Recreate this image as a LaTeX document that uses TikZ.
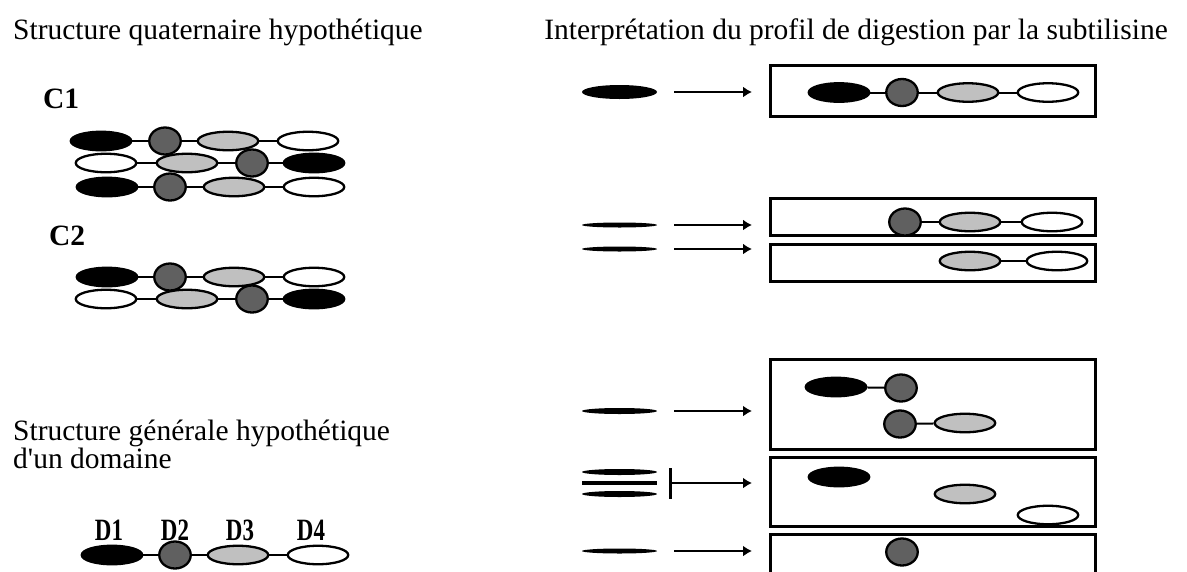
\documentclass[tikz,border=0pt]{standalone}
\usepackage{fontspec}
\setmainfont{Liberation Serif}
\usepackage{graphicx}
\usetikzlibrary{shapes.geometric, arrows.meta, positioning}
\definecolor{domdark}{HTML}{606060}
\definecolor{domlight}{HTML}{C0C0C0}
\newcommand{\dlab}[1]{\scalebox{0.74}[1]{#1}}
\tikzset{
  dom/.style     = {ellipse, draw=black, line width=2.3pt, inner sep=0pt,
                    minimum width=60.5pt, minimum height=18.5pt},
  dblack/.style  = {dom, fill=black},
  dgrey/.style   = {dom, fill=domdark, minimum width=31.5pt, minimum height=27pt},
  dlight/.style  = {dom, fill=domlight},
  dwhite/.style  = {dom, fill=white},
  link/.style    = {line width=2pt},
  band/.style    = {ellipse, fill=black, inner sep=0pt, minimum width=75pt, minimum height=5pt},
  midbar/.style  = {rectangle, fill=black, inner sep=0pt, minimum width=75pt, minimum height=4pt},
  frag/.style    = {rectangle, draw=black, line width=3pt, inner sep=0pt, minimum width=325pt},
  digest/.style  = {line width=2.5pt, -{Latex[length=9pt, width=11pt]},
                    shorten <=17pt, shorten >=17pt},
  txt/.style     = {font=\fontsize{29.5}{25}\selectfont, inner sep=0pt},
  lab/.style     = {font=\fontsize{29.5}{25}\selectfont\bfseries, inner sep=0pt},
}

\begin{document}
\begin{tikzpicture}[x=1pt, y=-1pt]
\useasboundingbox (0,0) rectangle (1187,571);

% =============== TITLES ===============
\node (qtitle) [txt, anchor=base west] at (13,39) {Structure quaternaire hypothétique};
\node (ptitle) [txt, anchor=base east] at (1168,39) {Interprétation du profil de digestion par la subtilisine};

% =============== C1 ===============
\node (c1) [lab, anchor=base west] at (43,108) {C1};
\foreach \x/\s [count=\i] in {101/dblack,165/dgrey,228/dlight,308/dwhite}
  \node (a\i) [\s] at (\x,141) {};
\foreach \i/\j in {1/2,2/3,3/4} \draw[link] (a\i) -- (a\j);
\foreach \x/\s [count=\i] in {106/dwhite,187/dlight,252/dgrey,314/dblack}
  \node (b\i) [\s] at (\x,163) {};
\foreach \i/\j in {1/2,2/3,3/4} \draw[link] (b\i) -- (b\j);
\foreach \x/\s [count=\i] in {107/dblack,170/dgrey,234/dlight,314/dwhite}
  \node (c\i) [\s] at (\x,187) {};
\foreach \i/\j in {1/2,2/3,3/4} \draw[link] (c\i) -- (c\j);

% =============== C2 ===============
\node (c2) [lab, anchor=base west] at (49,245) {C2};
\foreach \x/\s [count=\i] in {107/dblack,170/dgrey,234/dlight,314/dwhite}
  \node (d\i) [\s] at (\x,277) {};
\foreach \i/\j in {1/2,2/3,3/4} \draw[link] (d\i) -- (d\j);
\foreach \x/\s [count=\i] in {106/dwhite,187/dlight,252/dgrey,314/dblack}
  \node (e\i) [\s] at (\x,299) {};
\foreach \i/\j in {1/2,2/3,3/4} \draw[link] (e\i) -- (e\j);

% =============== ONE DOMAIN ===============
\node (gtitle) [txt, anchor=base west, align=left] at (13,468)
  {Structure générale hypothétique\\[-0.5pt]d\textquotesingle un domaine};
\foreach \x/\t [count=\i] in {109/D1,175/D2,240/D3,311/D4}
  \node (l\i) [lab, font=\fontsize{31}{31}\selectfont\bfseries, anchor=base] at (\x,540) {\dlab{\t}};
\foreach \x/\s [count=\i] in {112/dblack,175/dgrey,238/dlight,318/dwhite}
  \node (g\i) [\s] at (\x,555) {};
\foreach \i/\j in {1/2,2/3,3/4} \draw[link] (g\i) -- (g\j);

% =============== DIGESTION FRAGMENTS ===============
\node (frag1) [frag, minimum height=51pt] at (933,91)    {};
\node (frag2) [frag, minimum height=37pt] at (933,217)   {};
\node (frag3) [frag, minimum height=37pt] at (933,263)   {};
\node (frag4) [frag, minimum height=90pt] at (933,404.5) {};
\node (frag5) [frag, minimum height=69pt] at (933,492)   {};
\node (frag6) [frag, minimum height=57pt] at (933,563)   {};

% fragment 1: D1-D2-D3-D4
\foreach \x/\s [count=\i] in {839/dblack,902/dgrey,968/dlight,1048/dwhite}
  \node (f\i) [\s] at (\x,92.5) {};
\foreach \i/\j in {1/2,2/3,3/4} \draw[link] (f\i) -- (f\j);
% fragments 2 and 3
\foreach \x/\s [count=\i] in {905/dgrey,970/dlight,1052/dwhite}
  \node (h\i) [\s] at (\x,222) {};
\foreach \i/\j in {1/2,2/3} \draw[link] (h\i) -- (h\j);
\node (k1) [dlight] at (970,261) {};
\node (k2) [dwhite] at (1057,261) {};
\draw[link] (k1) -- (k2);
% fragment 4: D1-D2 and D2-D3
\node (m1) [dblack] at (836,387) {};
\node (m2) [dgrey]  at (901,388) {};
\draw[link] (m1) -- (m2);
\node (n1) [dgrey]  at (900,424) {};
\node (n2) [dlight] at (965,423) {};
\draw[link] (n1) -- (n2);
% fragment 5: free domains
\node (p1) [dblack] at (839,477) {};
\node (p2) [dlight] at (965,494) {};
\node (p3) [dwhite] at (1048,515) {};
% fragment 6
\node (q1) [dgrey] at (902,552) {};

% =============== GEL BANDS ===============
\node (band1) [band, minimum height=14pt] at (619.5,92) {};
\node (band2) [band] at (619.5,225) {};
\node (band3) [band] at (619.5,249) {};
\node (band4) [band, minimum height=6pt] at (619.5,411) {};
\node (band5a) [band, minimum height=6pt] at (619.5,472) {};
\node (band5) [midbar] at (619.5,483) {};
\node (band5b) [band, minimum height=6pt] at (619.5,494) {};
\node (band6) [band] at (619.5,551) {};

% band -> fragment arrows
\foreach \k in {1,2,3,4,6}
  \draw[digest] (band\k.east) -- (band\k.east -| frag\k.west);
\draw[digest, {Bar[width=31pt, line width=2.5pt]}-{Latex[length=9pt, width=11pt]}, shorten <=12pt]
  (band5.east) -- (band5.east -| frag5.west);

\end{tikzpicture}
\end{document}
